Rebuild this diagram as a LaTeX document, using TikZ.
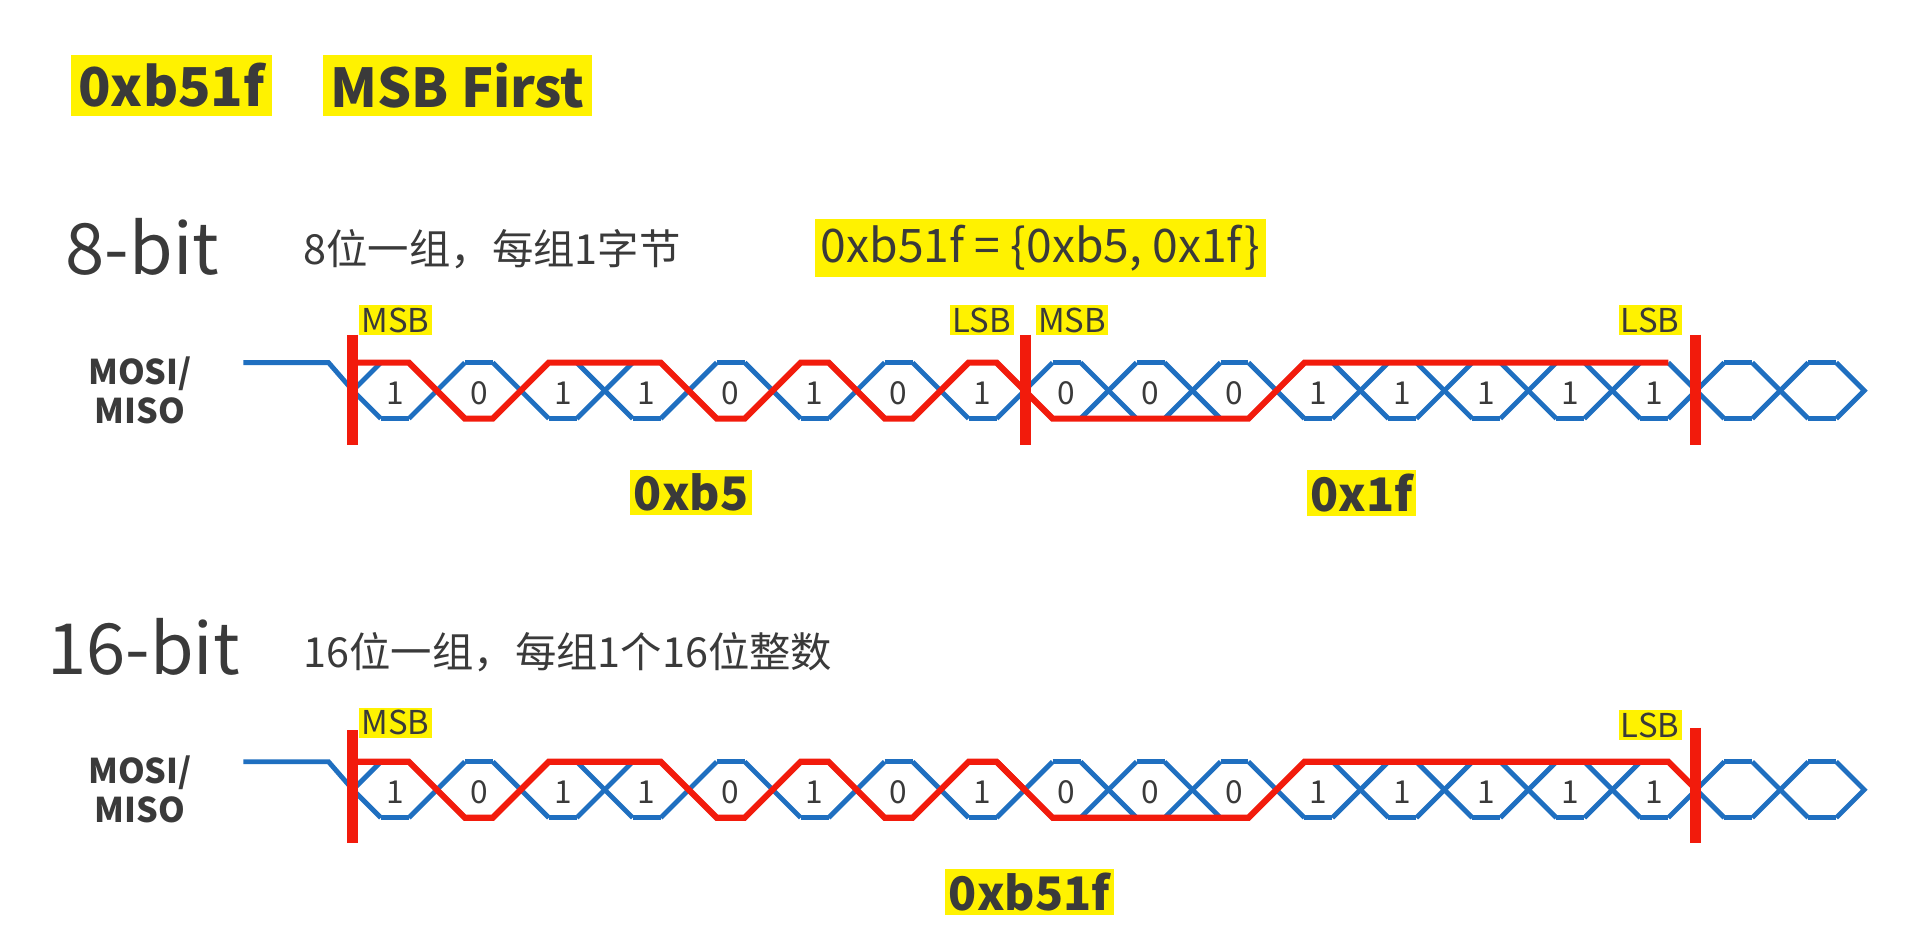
\documentclass[tikz,border=0pt]{standalone}
\usepackage{fontspec}
\setmainfont{Noto Sans CJK SC}
\definecolor{hl}{HTML}{FFF200}
\definecolor{wblue}{HTML}{1F6FC0}
\definecolor{wred}{HTML}{F21B0C}
\definecolor{tx}{HTML}{3A3A3A}
\tikzset{
  hlbox/.style={fill=hl,inner sep=3pt,text=tx,font=\fontsize{#1}{#1}\selectfont\bfseries},
  tag/.style={fill=hl,inner sep=2pt,text=tx,font=\fontsize{27}{27}\selectfont},
  bitlbl/.style={text=tx,font=\fontsize{26}{26}\selectfont},
  blue/.style={draw=wblue,line width=4pt,line join=miter},
  redw/.style={draw=wred,line width=5pt,line join=miter},
  bar/.style={draw=wred,line width=9pt},
  plain/.style={text=tx,font=\fontsize{#1}{#1}\selectfont},
  sig/.style={text=tx,align=center,font=\fontsize{28}{32}\selectfont\bfseries}
}
\newcommand\mywave[1]{%
\begin{scope}[shift={(0,#1)}]
 \draw[blue] (200,298)--(270,298)--(290,321);
 \draw[blue] (290,321)--(313,298); \draw[blue] (290,321)--(313,344);
 \foreach \k in {0,...,17}{
   \draw[blue] ({290+69*\k+23},298)--({290+69*(\k+1)-23},298);
   \draw[blue] ({290+69*\k+23},344)--({290+69*(\k+1)-23},344);}
 \foreach \k in {1,...,17}{
   \draw[blue] ({290+69*\k-23},298)--({290+69*\k+23},344);
   \draw[blue] ({290+69*\k-23},344)--({290+69*\k+23},298);}
 \draw[blue] (1509,298)--(1532,321)--(1509,344);
 \foreach \b [count=\i from 0] in {1,0,1,1,0,1,0,1,0,0,0,1,1,1,1,1}
   \node[bitlbl] at ({324.5+69*\i},323) {\b};
 \draw[redw] (290,298)--(336,298)--(382,344)--(405,344)--(451,298)--(543,298)--(589,344)--(612,344)--(658,298)--(681,298)--(727,344)--(750,344)--(796,298)--(819,298)--(842,321);
\end{scope}}
\begin{document}
\begin{tikzpicture}[x=1pt,y=-1pt]
\useasboundingbox (0,0) rectangle (1568,770);
% title
\node[hlbox=44,inner xsep=6pt,minimum height=50pt] (t1) at (141,70) {0xb51f};
\node[hlbox=44,inner xsep=6pt,minimum height=50pt] (t2) at (376,70) {MSB First};
% row 1
\node[plain=58] (b8) at (117,203) {8-bit};
\node[plain=34,anchor=west] (d8) at (246,205) {8位一组，每组1字节};
\node[fill=hl,text=tx,inner sep=5pt,font=\fontsize{38}{38}\selectfont] (eq) at (855,204) {0xb51f = \{0xb5, 0x1f\}};
\node[sig] (s1) at (115,321) {MOSI/\\MISO};
\mywave{0}
\draw[redw] (842,321)--(865,344)--(1026,344)--(1072,298)--(1371,298);
\draw[bar] (290,275)--(290,366);
\draw[bar] (843,275)--(843,366);
\draw[bar] (1393,275)--(1393,366);
\node[tag] (m1) at (325,263) {MSB};
\node[tag] (l1) at (807,263) {LSB};
\node[tag] (m2) at (881,263) {MSB};
\node[tag] (l2) at (1356,263) {LSB};
\node[hlbox=38] (x1) at (568,405) {0xb5};
\node[hlbox=38] (x2) at (1119,405) {0x1f};
% row 2
\node[plain=58] (b16) at (118,532) {16-bit};
\node[plain=34,anchor=west] (d16) at (246,536) {16位一组，每组1个16位整数};
\node[sig] (s2) at (115,649) {MOSI/\\MISO};
\mywave{328}
\draw[redw] (819,626)--(865,672)--(1026,672)--(1072,626)--(1371,626)--(1394,649);
\draw[bar] (290,600)--(290,693);
\draw[bar] (1393,598)--(1393,693);
\node[tag] (m3) at (325,594) {MSB};
\node[tag] (l3) at (1356,596) {LSB};
\node[hlbox=38] (x3) at (846,733) {0xb51f};
\end{tikzpicture}
\end{document}
